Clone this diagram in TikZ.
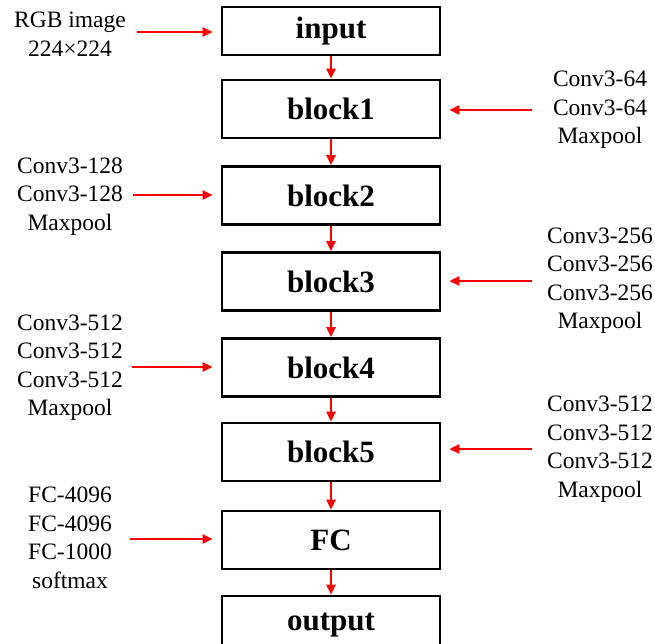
\documentclass[tikz,border=0pt]{standalone}
\usepackage{fontspec}
\setmainfont{Liberation Serif}
\usetikzlibrary{arrows.meta}
\begin{document}
\begin{tikzpicture}[x=1pt,y=-1pt,
  box/.style={draw, line width=2.6pt, rectangle, minimum width=218pt, minimum height=58pt, inner sep=0pt, font=\fontsize{31}{36}\selectfont\bfseries},
  lbl/.style={align=center, font=\fontsize{23.5}{28.5}\selectfont, inner sep=0pt},
  flow/.style={red, line width=2.3pt, -{Triangle[length=10pt,width=9pt]}},
  feed/.style={flow, shorten >=8pt}]
\clip (0,0) rectangle (655,643);
% main column
\node[box, minimum height=48pt] (in) at (331,31) {input};
\node[box] (b1) at (331,109) {block1};
\node[box] (b2) at (331,195.5) {block2};
\node[box] (b3) at (331,281.5) {block3};
\node[box] (b4) at (331,367.5) {block4};
\node[box] (b5) at (331,452) {block5};
\node[box] (fc) at (331,540) {FC};
\node[box] (out) at (331,625) {output};
\foreach \a/\b in {in/b1,b1/b2,b2/b3,b3/b4,b4/b5,b5/fc,fc/out}
  \draw[flow] (\a.south) -- (\b.north);
% labels
\node[lbl] (lin) at (70,34) {RGB image\\224×224};
\node[lbl] (l1) at (600,110) {Conv3-64\\Conv3-64\\Maxpool};
\node[lbl] (l2) at (70,196.5) {Conv3-128\\Conv3-128\\Maxpool};
\node[lbl] (l3) at (600,280.5) {Conv3-256\\Conv3-256\\Conv3-256\\Maxpool};
\node[lbl] (l4) at (70,367.5) {Conv3-512\\Conv3-512\\Conv3-512\\Maxpool};
\node[lbl] (l5) at (600,449) {Conv3-512\\Conv3-512\\Conv3-512\\Maxpool};
\node[lbl] (lfc) at (70,538) {FC-4096\\FC-4096\\FC-1000\\softmax};
% feed arrow starts
\coordinate (sin) at (137,32);
\coordinate (s1) at (532,110);
\coordinate (s2) at (133,195);
\coordinate (s3) at (532,281);
\coordinate (s4) at (132,367);
\coordinate (s5) at (532,449);
\coordinate (sfc) at (130,539);
\draw[feed] (sin) -- (sin -| in.west);
\draw[feed] (s1) -- (s1 -| b1.east);
\draw[feed] (s2) -- (s2 -| b2.west);
\draw[feed] (s3) -- (s3 -| b3.east);
\draw[feed] (s4) -- (s4 -| b4.west);
\draw[feed] (s5) -- (s5 -| b5.east);
\draw[feed] (sfc) -- (sfc -| fc.west);
\end{tikzpicture}
\end{document}
